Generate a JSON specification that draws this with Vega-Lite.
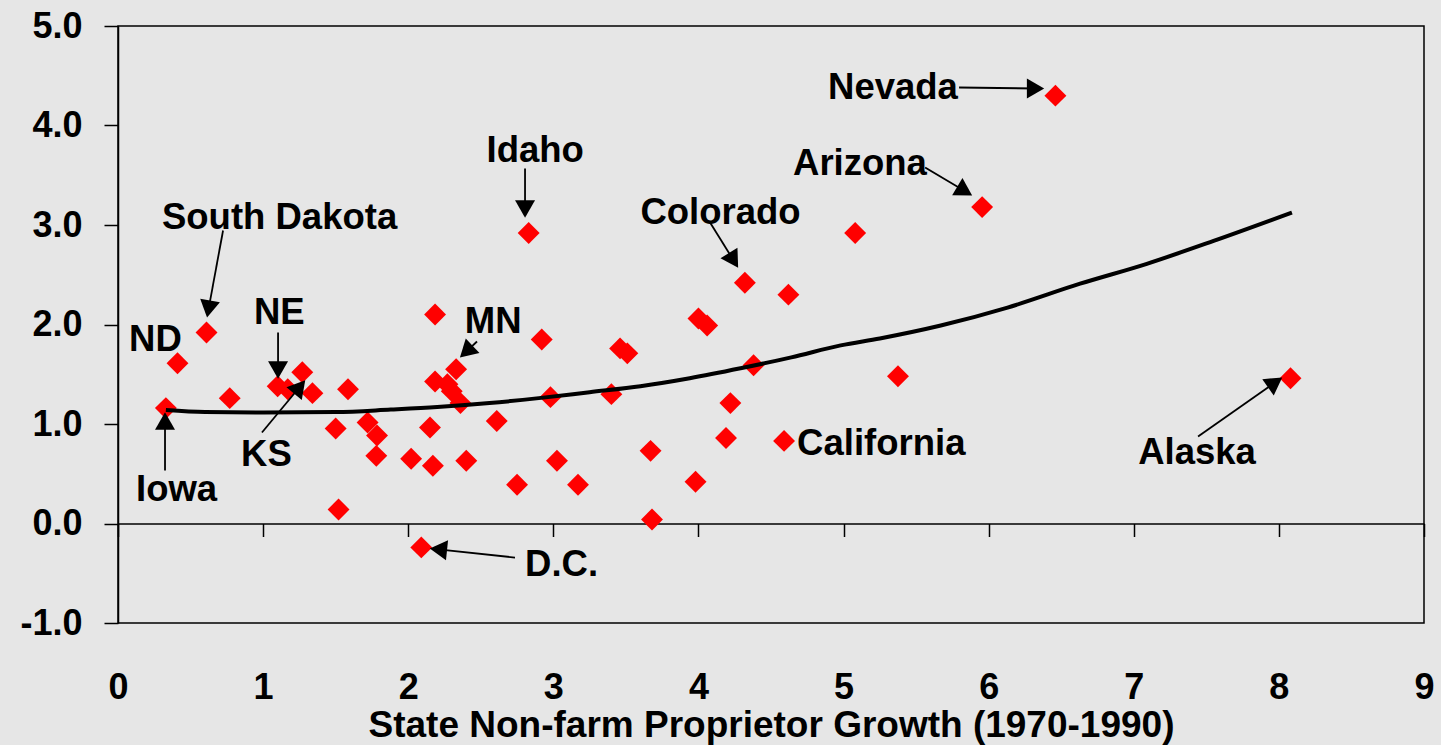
{
  "$schema": "https://vega.github.io/schema/vega-lite/v6.json",
  "width": 1306,
  "height": 597,
  "autosize": {"type": "none"},
  "padding": {"left": 118, "top": 26, "right": 17, "bottom": 122},
  "background": "#e6e6e6",
  "config": {
    "view": {"stroke": "#000000", "strokeWidth": 1.5},
    "font": "Liberation Sans"
  },
  "datasets": {
    "states": [
      {"x": 0.33, "y": 1.16}, {"x": 0.41, "y": 1.61}, {"x": 0.61, "y": 1.92}, {"x": 0.77, "y": 1.26},
      {"x": 1.10, "y": 1.38}, {"x": 1.17, "y": 1.35}, {"x": 1.27, "y": 1.52}, {"x": 1.34, "y": 1.31},
      {"x": 1.585, "y": 1.35}, {"x": 1.50, "y": 0.955}, {"x": 1.52, "y": 0.14}, {"x": 1.72, "y": 1.015},
      {"x": 1.785, "y": 0.885}, {"x": 1.78, "y": 0.68}, {"x": 2.02, "y": 0.65}, {"x": 2.09, "y": -0.24},
      {"x": 2.15, "y": 0.965}, {"x": 2.17, "y": 0.58}, {"x": 2.185, "y": 2.10}, {"x": 2.185, "y": 1.427},
      {"x": 2.27, "y": 1.40}, {"x": 2.30, "y": 1.33}, {"x": 2.36, "y": 1.21}, {"x": 2.33, "y": 1.55},
      {"x": 2.40, "y": 0.63}, {"x": 2.61, "y": 1.03}, {"x": 2.75, "y": 0.39}, {"x": 2.83, "y": 2.92},
      {"x": 2.92, "y": 1.85}, {"x": 2.98, "y": 1.27}, {"x": 3.025, "y": 0.63}, {"x": 3.17, "y": 0.39},
      {"x": 3.40, "y": 1.30}, {"x": 3.46, "y": 1.76}, {"x": 3.51, "y": 1.71}, {"x": 3.67, "y": 0.73},
      {"x": 3.68, "y": 0.04}, {"x": 3.98, "y": 0.42}, {"x": 4.00, "y": 2.06}, {"x": 4.06, "y": 1.99},
      {"x": 4.19, "y": 0.86}, {"x": 4.22, "y": 1.21}, {"x": 4.32, "y": 2.42}, {"x": 4.38, "y": 1.59},
      {"x": 4.59, "y": 0.83}, {"x": 4.62, "y": 2.30}, {"x": 5.08, "y": 2.92}, {"x": 5.375, "y": 1.48},
      {"x": 5.955, "y": 3.18}, {"x": 6.46, "y": 4.30}, {"x": 8.08, "y": 1.46}
    ],
    "trend": [
      {"x": 0.33, "y": 1.14}, {"x": 0.6, "y": 1.12}, {"x": 1.0, "y": 1.115}, {"x": 1.5, "y": 1.12},
      {"x": 1.88, "y": 1.145}, {"x": 2.2, "y": 1.17}, {"x": 2.56, "y": 1.21}, {"x": 2.9, "y": 1.26},
      {"x": 3.25, "y": 1.32}, {"x": 3.6, "y": 1.38}, {"x": 3.94, "y": 1.46}, {"x": 4.29, "y": 1.56},
      {"x": 4.64, "y": 1.67}, {"x": 4.98, "y": 1.79}, {"x": 5.25, "y": 1.86}, {"x": 5.67, "y": 1.99},
      {"x": 6.13, "y": 2.17}, {"x": 6.63, "y": 2.41}, {"x": 7.09, "y": 2.61}, {"x": 7.55, "y": 2.84},
      {"x": 8.09, "y": 3.125}
    ],
    "arrows": [
      {"name": "Nevada", "x": 5.796, "y": 4.382, "x2": 6.323, "y2": 4.372},
      {"name": "Arizona", "x": 5.562, "y": 3.578, "x2": 5.835, "y2": 3.341},
      {"name": "Colorado", "x": 4.080, "y": 3.025, "x2": 4.242, "y2": 2.645},
      {"name": "Idaho", "x": 2.805, "y": 3.568, "x2": 2.805, "y2": 3.161},
      {"name": "South Dakota", "x": 0.724, "y": 2.945, "x2": 0.624, "y2": 2.155},
      {"name": "NE", "x": 1.103, "y": 1.920, "x2": 1.103, "y2": 1.543},
      {"name": "KS", "x": 0.992, "y": 0.915, "x2": 1.252, "y2": 1.372},
      {"name": "MN", "x": 2.474, "y": 1.829, "x2": 2.400, "y2": 1.727},
      {"name": "Iowa", "x": 0.324, "y": 0.533, "x2": 0.324, "y2": 1.030},
      {"name": "D.C.", "x": 2.736, "y": -0.342, "x2": 2.208, "y2": -0.260},
      {"name": "Alaska", "x": 7.443, "y": 0.874, "x2": 7.974, "y2": 1.418}
    ],
    "heads": [
      {"name": "Nevada", "x": 6.323, "y": 4.372, "angle": 90},
      {"name": "Arizona", "x": 5.835, "y": 3.341, "angle": 121},
      {"name": "Colorado", "x": 4.242, "y": 2.645, "angle": 148},
      {"name": "Idaho", "x": 2.805, "y": 3.161, "angle": 180},
      {"name": "South Dakota", "x": 0.624, "y": 2.155, "angle": 190},
      {"name": "NE", "x": 1.103, "y": 1.543, "angle": 180},
      {"name": "KS", "x": 1.252, "y": 1.372, "angle": 40},
      {"name": "MN", "x": 2.400, "y": 1.727, "angle": 227},
      {"name": "Iowa", "x": 0.324, "y": 1.030, "angle": 0},
      {"name": "D.C.", "x": 2.208, "y": -0.260, "angle": 276},
      {"name": "Alaska", "x": 7.974, "y": 1.418, "angle": 55}
    ],
    "labels": [
      {"label": "Nevada", "x": 4.893, "y": 4.27},
      {"label": "Arizona", "x": 4.652, "y": 3.50},
      {"label": "Colorado", "x": 3.60, "y": 3.015},
      {"label": "Idaho", "x": 2.54, "y": 3.63},
      {"label": "South Dakota", "x": 0.303, "y": 2.955},
      {"label": "ND", "x": 0.076, "y": 1.73},
      {"label": "NE", "x": 0.937, "y": 2.007},
      {"label": "KS", "x": 0.848, "y": 0.573},
      {"label": "Iowa", "x": 0.124, "y": 0.224},
      {"label": "MN", "x": 2.39, "y": 1.913},
      {"label": "D.C.", "x": 2.805, "y": -0.523},
      {"label": "California", "x": 4.68, "y": 0.693},
      {"label": "Alaska", "x": 7.03, "y": 0.603}
    ]
  },
  "encoding": {
    "x": {
      "field": "x",
      "type": "quantitative",
      "scale": {"domain": [0, 9], "nice": false, "zero": false},
      "axis": {
        "orient": "bottom",
        "offset": -99.5,
        "values": [0, 1, 2, 3, 4, 5, 6, 7, 8, 9],
        "format": "d",
        "grid": false,
        "domain": true,
        "domainColor": "#000000",
        "domainWidth": 1.5,
        "ticks": true,
        "tickColor": "#000000",
        "tickWidth": 1.5,
        "tickSize": 13,
        "labelPadding": 134,
        "labelFont": "Liberation Sans",
        "labelFontSize": 36,
        "labelFontWeight": "bold",
        "labelColor": "#000000",
        "labelFlush": false,
        "labelOverlap": false,
        "labelBound": false,
        "title": "State Non-farm Proprietor Growth (1970-1990)",
        "titleFont": "Liberation Sans",
        "titleFontSize": 37,
        "titleFontWeight": "bold",
        "titleColor": "#000000",
        "titlePadding": 2
      }
    },
    "y": {
      "field": "y",
      "type": "quantitative",
      "scale": {"domain": [-1, 5], "nice": false, "zero": false},
      "axis": {
        "values": [-1, 0, 1, 2, 3, 4, 5],
        "labelExpr": "datum.value < 0 ? '-' + format(-datum.value, '.1f') : format(datum.value, '.1f')",
        "grid": false,
        "domain": true,
        "domainColor": "#000000",
        "domainWidth": 1.5,
        "ticks": true,
        "tickColor": "#000000",
        "tickWidth": 1.5,
        "tickSize": 14,
        "labelPadding": 22,
        "labelFont": "Liberation Sans",
        "labelFontSize": 36,
        "labelFontWeight": "bold",
        "labelColor": "#000000",
        "labelFlush": false,
        "labelOverlap": false,
        "labelBound": false,
        "title": null
      }
    }
  },
  "layer": [
    {
      "data": {"name": "states"},
      "mark": {"type": "point", "shape": "diamond", "filled": true, "color": "#ff0000", "opacity": 1, "size": 480, "strokeWidth": 0}
    },
    {
      "data": {"name": "trend"},
      "mark": {"type": "line", "color": "#000000", "strokeWidth": 4, "interpolate": "monotone"}
    },
    {
      "data": {"name": "arrows"},
      "mark": {"type": "rule", "color": "#000000", "strokeWidth": 1.8},
      "encoding": {
        "x2": {"field": "x2"},
        "y2": {"field": "y2"}
      }
    },
    {
      "data": {"name": "heads"},
      "mark": {"type": "point", "shape": "triangle-up", "filled": true, "color": "#000000", "opacity": 1, "size": 400, "strokeWidth": 0},
      "encoding": {
        "angle": {"field": "angle", "type": "quantitative", "scale": null}
      }
    },
    {
      "data": {"name": "labels"},
      "mark": {"type": "text", "align": "left", "baseline": "alphabetic", "font": "Liberation Sans", "fontSize": 36.5, "fontWeight": "bold", "color": "#000000"},
      "encoding": {
        "text": {"field": "label", "type": "nominal"}
      }
    }
  ]
}
